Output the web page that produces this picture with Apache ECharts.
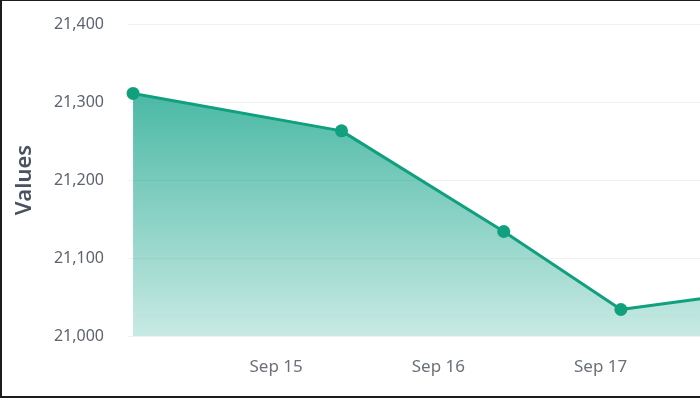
<!DOCTYPE html>
<html>
<head>
<meta charset="utf-8">
<script src="https://cdn.jsdelivr.net/npm/echarts@6/dist/echarts.min.js"></script>
<style>
  html, body { margin: 0; padding: 0; width: 700px; height: 400px; overflow: hidden; background: #fff; }
  #frame { position: absolute; left: 0; top: 0; width: 900px; height: 395px; border: 2px solid #1c1c1c; border-top-width: 1px; border-right: none; }
  #chart { position: absolute; left: 0; top: 0; width: 900px; height: 400px; }
</style>
</head>
<body>
<div id="frame"></div>
<div id="chart"></div>
<script>
// Data (local times) and values
const pointTimes = [
  new Date(2024, 8, 14, 2, 50).getTime(),
  new Date(2024, 8, 15, 9, 40).getTime(),
  new Date(2024, 8, 16, 9, 40).getTime(),
  new Date(2024, 8, 17, 3, 0).getTime(),
  new Date(2024, 8, 18, 2, 50).getTime()
];
const pointValues = [21311, 21263, 21134, 21034, 21062];
const xAxisMin = new Date(2024, 8, 14, 2, 5).getTime();
const DAY = 86400000;
const monthNames = ['Jan','Feb','Mar','Apr','May','Jun','Jul','Aug','Sep','Oct','Nov','Dec'];
const yMin = 21000, yMax = 21400, yStep = 100;

const seriesData = pointTimes.map((t, i) => [t, pointValues[i]]);

const chart = echarts.init(document.getElementById('chart'));
const FONT = 'Noto Sans';
chart.setOption({
  animation: false,
  grid: { left: 128, top: 24, bottom: 64, right: 118 },
  xAxis: {
    type: 'time',
    min: xAxisMin,
    max: pointTimes[pointTimes.length - 1],
    minInterval: DAY,
    maxInterval: DAY,
    axisLine: { show: false },
    axisTick: { show: false },
    splitLine: { show: false },
    axisLabel: {
      showMinLabel: false,
      showMaxLabel: false,
      formatter: function (v) {
        const d = new Date(v);
        if (d.getHours() !== 0 || d.getMinutes() !== 0) return '';
        return monthNames[d.getMonth()] + ' ' + d.getDate();
      },
      color: '#6b7079',
      fontFamily: FONT,
      fontSize: 17,
      margin: 23
    }
  },
  yAxis: {
    type: 'value',
    min: yMin,
    max: yMax,
    interval: yStep,
    name: 'Values',
    nameLocation: 'middle',
    nameGap: 92,
    nameTextStyle: { color: '#4a5262', fontFamily: FONT, fontSize: 22, fontWeight: 600 },
    axisLine: { show: false },
    axisTick: { show: false },
    splitLine: { lineStyle: { color: '#f1f1f1', width: 1 } },
    axisLabel: {
      color: '#5d6370',
      fontFamily: FONT,
      fontSize: 16,
      margin: 24,
      formatter: function (v) { return v.toLocaleString('en-US'); }
    }
  },
  series: [{
    type: 'line',
    data: seriesData,
    symbol: 'circle',
    symbolSize: 13,
    lineStyle: { color: '#10a07d', width: 3 },
    itemStyle: { color: '#10a07d' },
    areaStyle: {
      opacity: 1,
      color: new echarts.graphic.LinearGradient(0, 0, 0, 1, [
        { offset: 0, color: 'rgba(24,165,140,0.78)' },
        { offset: 1, color: 'rgba(24,165,140,0.24)' }
      ])
    }
  }]
});
</script>
</body>
</html>
